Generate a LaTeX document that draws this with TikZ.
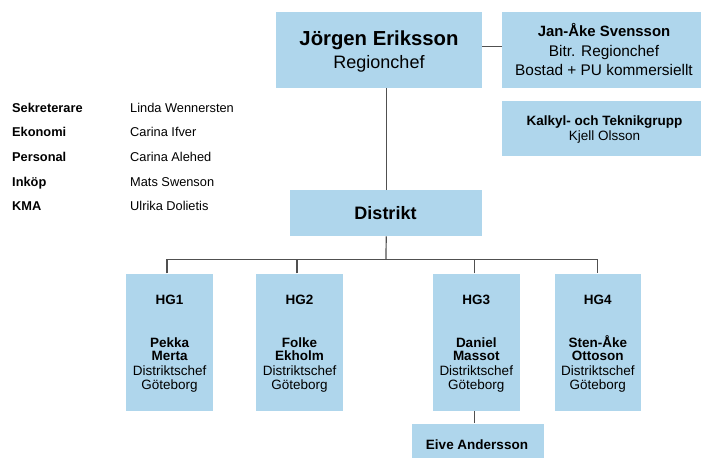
\documentclass[tikz,border=0pt]{standalone}
\usepackage{fontspec}
\setmainfont{Liberation Sans}
\definecolor{boxblue}{RGB}{175,214,236}
\definecolor{linegray}{RGB}{80,80,80}
\begin{document}
\begin{tikzpicture}[x=1pt,y=-1pt,
  box/.style={fill=boxblue, draw=none, inner sep=0pt, anchor=north west},
  conn/.style={draw=linegray, line width=1.2pt},
  txt/.style={inner sep=0pt, anchor=base, text=black},
  lbl/.style={inner sep=0pt, anchor=base west, text=black, font=\fontsize{12.8}{15}\selectfont\bfseries},
  val/.style={inner sep=0pt, anchor=base west, text=black, font=\fontsize{12.8}{15}\selectfont},
  hgb/.style={box, minimum width=86.7pt, minimum height=137.4pt},
  big/.style={font=\fontsize{20.3}{24}\selectfont\bfseries},
  small/.style={font=\fontsize{13.5}{16}\selectfont},
  smallb/.style={font=\fontsize{13.5}{16}\selectfont\bfseries},
]
\useasboundingbox (0,0) rectangle (701,459);

% boxes
\node[box, minimum width=206pt, minimum height=76pt] (jorgen) at (276,12) {};
\node[box, minimum width=199pt, minimum height=76pt] (jan) at (502,12) {};
\node[box, minimum width=199pt, minimum height=55pt] (kalkyl) at (502,101) {};
\node[box, minimum width=192pt, minimum height=46pt] (distrikt) at (290,190) {};
\node[hgb] (hg1) at (126,273.3) {};
\node[hgb] (hg2) at (256,273.3) {};
\node[hgb] (hg3) at (432.7,273.3) {};
\node[hgb] (hg4) at (554.3,273.3) {};
\node[box, minimum width=131.3pt, minimum height=34pt] (eive) at (412,423.3) {};

% connectors
\coordinate (bus) at (386,259.3);
\draw[conn] ([yshift=4pt]jorgen.east) -- ([yshift=4pt]jan.west);
\draw[conn] (distrikt.north) -- (distrikt.north |- jorgen.south);
\draw[conn] (distrikt.south) -- (bus);
\draw[conn] ([xshift=-2.5pt]hg1.north) -- ([xshift=-2.5pt]hg1.north |- bus) -- (hg4.north |- bus) -- (hg4.north);
\draw[conn] ([xshift=-2.5pt]hg2.north) -- ([xshift=-2.5pt]hg2.north |- bus);
\draw[conn] ([xshift=-2pt]hg3.north) -- ([xshift=-2pt]hg3.north |- bus);
\draw[conn] ([xshift=-2pt]hg3.south) -- ([xshift=-2pt]hg3.south |- eive.north);

% box texts
\node[txt, big] (t-jorgen) at (379,45.7) {Jörgen Eriksson};
\node[txt, font=\fontsize{18}{22}\selectfont] (t-regionchef) at (379,68.3) {Regionchef};
\node[txt, font=\fontsize{14.9}{18}\selectfont\bfseries] (t-jan) at (604,36) {Jan-Åke Svensson};
\node[txt, font=\fontsize{15.4}{18}\selectfont] (t-bitr) at (604,56.7) {Bitr. Regionchef};
\node[txt, font=\fontsize{15.4}{18}\selectfont] (t-bostad) at (604,75) {Bostad + PU kommersiellt};
\node[txt, smallb] (t-kalkyl) at (604.5,125.7) {Kalkyl- och Teknikgrupp};
\node[txt, small] (t-kjell) at (604.5,140) {Kjell Olsson};
\node[txt, font=\fontsize{18}{22}\selectfont\bfseries] (t-distrikt) at (385.5,219.3) {Distrikt};
\node[txt, smallb] (t-eive) at (477,449.3) {Eive Andersson};

% district heads
\foreach \n/\g/\first/\last in {hg1/HG1/Pekka/Merta, hg2/HG2/Folke/Ekholm, hg3/HG3/Daniel/Massot, hg4/HG4/Sten-Åke/Ottoson}{
  \node[txt, smallb] (\n-g) at (\n.north |- 0,304.3) {\g};
  \node[txt, smallb] (\n-a) at (\n.north |- 0,347.3) {\first};
  \node[txt, smallb] (\n-b) at (\n.north |- 0,360.7) {\last};
  \node[txt, small] (\n-c) at (\n.north |- 0,375) {Distriktschef};
  \node[txt, small] (\n-d) at (\n.north |- 0,389.3) {Göteborg};
}

% staff list
\node[lbl] (l1) at (12,112.3) {Sekreterare};
\node[lbl] (l2) at (12,136.7) {Ekonomi};
\node[lbl] (l3) at (12,161.7) {Personal};
\node[lbl] (l4) at (12,186) {Inköp};
\node[lbl] (l5) at (12,210.7) {KMA};
\node[val] (v1) at (130,112.3) {Linda Wennersten};
\node[val] (v2) at (130,136.7) {Carina Ifver};
\node[val] (v3) at (130,161.7) {Carina Alehed};
\node[val] (v4) at (130,186) {Mats Swenson};
\node[val] (v5) at (130,210.7) {Ulrika Dolietis};
\end{tikzpicture}
\end{document}
